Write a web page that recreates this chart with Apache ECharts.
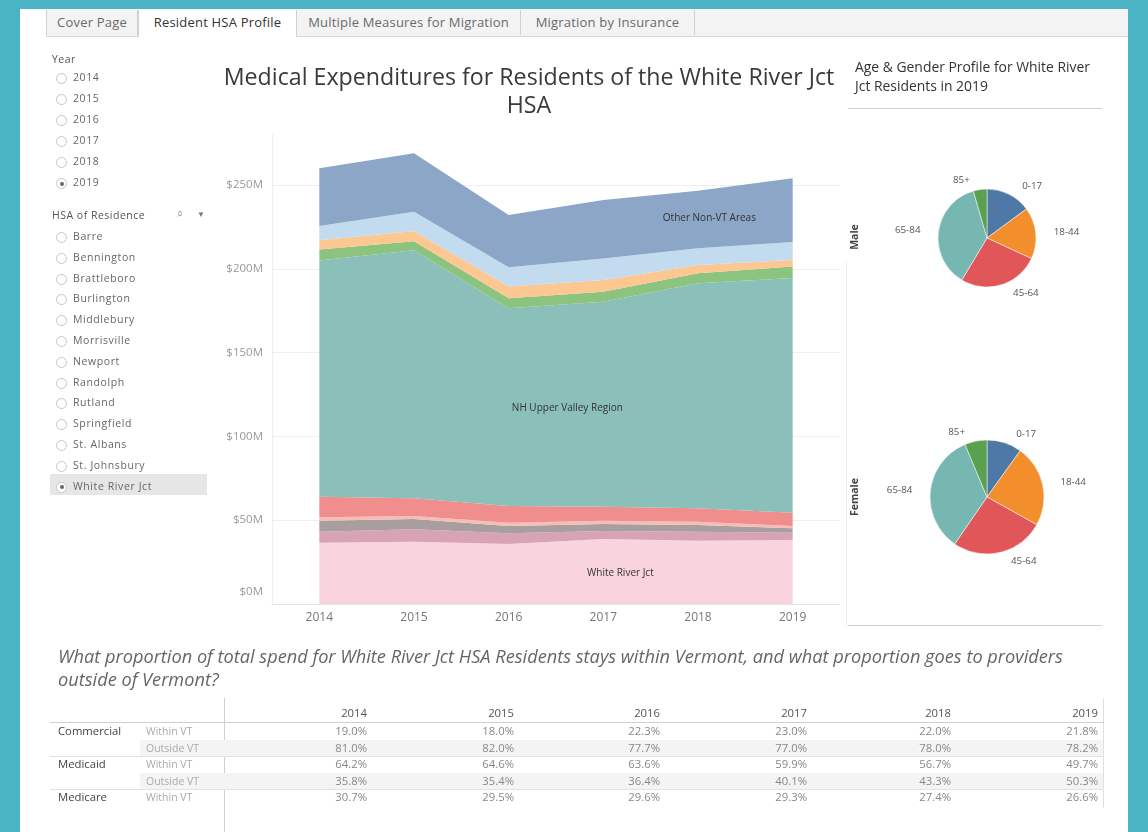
<!DOCTYPE html>
<html><head><meta charset="utf-8">
<script src="https://cdn.jsdelivr.net/npm/echarts@6.0.0/dist/echarts.min.js"></script>
<style>
html,body{margin:0;padding:0;width:1148px;height:832px;overflow:hidden;background:#4ab4c4;font-family:'Open Sans',sans-serif;}
#page{position:absolute;left:20px;top:9px;width:1108px;height:823px;background:#fff;}
#chart{position:absolute;left:0;top:0;width:1148px;height:832px;}
.abs{position:absolute;white-space:nowrap;}
#tabs{position:absolute;left:46px;top:10px;width:1082px;height:26px;background:#f3f3f3;border-bottom:1px solid #d6d6d6;}
.tab{position:absolute;top:0;height:25px;line-height:25px;font-size:13px;color:#6a6a6a;text-align:center;border-right:1px solid #d0d0d0;box-sizing:border-box;letter-spacing:0.2px;}
.tab.active{background:#fff;color:#333;height:27px;border-left:1px solid #d0d0d0;}
.flabel{position:absolute;font-size:10.5px;letter-spacing:0.5px;color:#555;}
.radio{position:absolute;width:9px;height:9px;border:1px solid #c4c4c4;border-radius:50%;background:#fff;}
.radio.on::after{content:'';position:absolute;left:2.5px;top:2.5px;width:4px;height:4px;border-radius:50%;background:#666;}
.ritem{position:absolute;font-size:10.5px;letter-spacing:0.6px;color:#666;}
.cell{position:absolute;font-size:11.3px;color:#888;text-align:right;}
</style></head>
<body>
<div id="page"></div>
<div id="tabs"></div>
<div id="chart"></div>
<div id="overlay"></div>
<script>
// ---------- data ----------
const years = ['2014','2015','2016','2017','2018','2019'];
// stacked layers (in $M), bottom to top
const whiteRiverJct   = [36.6, 37.2, 35.8, 38.8, 37.8, 38.2];
const vtRegionA       = [6.5, 7.4, 6.4, 4.8, 5.3, 4.3];
const vtRegionB       = [6.6, 6.1, 4.3, 4.1, 4.0, 2.7];
const vtRegionC       = [2.0, 1.8, 2.0, 2.0, 1.9, 1.3];
const vtRegionD       = [12.3, 10.6, 10.0, 8.3, 8.1, 8.0];
const nhUpperValley   = [141.0, 147.9, 117.9, 122.4, 134.2, 140.0];
const nonVtRegionA    = [6.5, 5.5, 6.0, 5.9, 6.0, 6.8];
const nonVtRegionB    = [5.5, 6.0, 7.0, 7.0, 5.0, 4.0];
const nonVtRegionC    = [8.5, 11.5, 11.5, 12.9, 9.9, 10.7];
const otherNonVt      = [34.5, 35.0, 31.2, 34.8, 34.3, 38.0];
const yTicks = [0, 50, 100, 150, 200, 250];

const ageGroups   = ['0-17', '18-44', '45-64', '65-84', '85+'];
const maleShare   = [14.9, 17.0, 26.7, 36.9, 4.5];
const femaleShare = [9.9, 23.2, 26.5, 34.1, 6.3];

const tableYears = ['2014','2015','2016','2017','2018','2019'];
const commercialWithin = ['19.0%','18.0%','22.3%','23.0%','22.0%','21.8%'];
const commercialOutside = ['81.0%','82.0%','77.7%','77.0%','78.0%','78.2%'];
const medicaidWithin = ['64.2%','64.6%','63.6%','59.9%','56.7%','49.7%'];
const medicaidOutside = ['35.8%','35.4%','36.4%','40.1%','43.3%','50.3%'];
const medicareWithin = ['30.7%','29.5%','29.6%','29.3%','27.4%','26.6%'];

const filterYears = ['2014','2015','2016','2017','2018','2019'];
const hsaList = ['Barre','Bennington','Brattleboro','Burlington','Middlebury','Morrisville','Newport','Randolph','Rutland','Springfield','St. Albans','St. Johnsbury','White River Jct'];
const tabNames = ['Cover Page','Resident HSA Profile','Multiple Measures for Migration','Migration by Insurance'];

// ---------- static HTML parts ----------
const ov = document.getElementById('overlay');
function add(html){ ov.insertAdjacentHTML('beforeend', html); }

const tabs = document.getElementById('tabs');
const tabX = [0, 92, 251, 475, 649];
tabNames.forEach((t,i)=>{
  tabs.insertAdjacentHTML('beforeend', `<div class="tab${i===1?' active':''}" style="left:${tabX[i]}px;width:${tabX[i+1]-tabX[i]}px;${i===0?'border-left:1px solid #d0d0d0;':''}">${t}</div>`);
});

// Filters
add(`<div class="flabel" style="left:52px;top:52px;">Year</div>`);
filterYears.forEach((y,i)=>{
  const top = 73 + i*21;
  add(`<div class="radio${i===5?' on':''}" style="left:56px;top:${top}px;"></div><div class="ritem" style="left:73px;top:${top-3}px;">${y}</div>`);
});
add(`<div class="flabel" style="left:52px;top:208px;">HSA of Residence</div>`);
add(`<div class="abs" style="left:177px;top:205px;font-size:11px;color:#999;">&#x2315;</div><div class="abs" style="left:197px;top:208px;font-size:8px;color:#777;">&#9660;</div>`);
add(`<div class="abs" style="left:50px;top:474px;width:157px;height:21px;background:#e6e6e6;"></div>`);
hsaList.forEach((h,i)=>{
  const top = 232 + i*20.8;
  add(`<div class="radio${i===12?' on':''}" style="left:56px;top:${top}px;"></div><div class="ritem" style="left:73px;top:${top-3}px;">${h}</div>`);
});

// Titles
add(`<div class="abs" style="left:179px;top:62px;width:700px;text-align:center;font-size:23.2px;line-height:28px;color:#3a3a3a;white-space:normal;">Medical Expenditures for Residents of the White River Jct<br>HSA</div>`);
add(`<div class="abs" style="left:855px;top:57px;font-size:13.9px;line-height:19px;color:#333;">Age &amp; Gender Profile for White River<br>Jct Residents in 2019</div>`);
add(`<div class="abs" style="left:848px;top:108px;width:254px;height:1px;background:#d0d0d0;"></div>`);
add(`<div class="abs" style="left:848px;top:625px;width:254px;height:1px;background:#d0d0d0;"></div>`);
add(`<div class="abs" style="left:846px;top:262px;width:1px;height:365px;background:#f0f0f0;"></div>`);

// Question
add(`<div class="abs" style="left:58px;top:645px;font-size:18.2px;line-height:23px;font-style:italic;color:#666;">What proportion of total spend for White River Jct HSA Residents stays within Vermont, and what proportion goes to providers<br>outside of Vermont?</div>`);

// Table
const colRight = [367, 514, 660, 807, 951, 1098];
add(`<div class="abs" style="left:224px;top:698px;width:1px;height:134px;background:#cfcfcf;"></div>`);
add(`<div class="abs" style="left:1103px;top:698px;width:1px;height:110px;background:#e0e0e0;"></div>`);
add(`<div class="abs" style="left:50px;top:722px;width:1054px;height:1px;background:#cfcfcf;"></div>`);
tableYears.forEach((y,i)=>{ add(`<div class="cell" style="left:${colRight[i]-60}px;width:60px;top:705px;color:#555;">${y}</div>`); });
const rows = [
  ['Commercial','Within VT',commercialWithin],
  ['','Outside VT',commercialOutside],
  ['Medicaid','Within VT',medicaidWithin],
  ['','Outside VT',medicaidOutside],
  ['Medicare','Within VT',medicareWithin]
];
rows.forEach((r,k)=>{
  const top = 723 + k*16.5;
  if (k%2===1) add(`<div class="abs" style="left:140px;top:${top}px;width:963px;height:16.5px;background:#f4f4f4;"></div>`);
  if (k===2 || k===4) add(`<div class="abs" style="left:50px;top:${top}px;width:1054px;height:1px;background:#e2e2e2;"></div>`);
  if (r[0]) add(`<div class="abs" style="left:58px;top:${top}px;font-size:11.3px;color:#444;">${r[0]}</div>`);
  add(`<div class="abs" style="left:146px;top:${top+1}px;font-size:10.5px;color:#aaa;">${r[1]}</div>`);
  r[2].forEach((v,i)=>{ add(`<div class="cell" style="left:${colRight[i]-60}px;width:60px;top:${top}px;">${v}</div>`); });
});

// ---------- chart ----------
const chart = echarts.init(document.getElementById('chart'), null, {renderer:'canvas'});
const layers = [
  ['White River Jct', whiteRiverJct, '#f9d4df'],
  ['VT Region A', vtRegionA, '#d9a3b6'],
  ['VT Region B', vtRegionB, '#a89e9f'],
  ['VT Region C', vtRegionC, '#f7bdb4'],
  ['VT Region D', vtRegionD, '#ef8e8c'],
  ['NH Upper Valley Region', nhUpperValley, '#8bbfba'],
  ['Non-VT Region A', nonVtRegionA, '#8cc37f'],
  ['Non-VT Region B', nonVtRegionB, '#fdc791'],
  ['Non-VT Region C', nonVtRegionC, '#c2dbef'],
  ['Other Non-VT Areas', otherNonVt, '#8ba6c7']
];
const FF = "'Open Sans', sans-serif";
const series = layers.map(l => ({
  name: l[0], type: 'line', stack: 'total', data: l[1], symbol: 'none',
  lineStyle: {width: 0}, areaStyle: {color: l[2], opacity: 1}, itemStyle:{color:l[2]}, z: 2
}));
const pieLabel = {show:true, position:'outside', color:'#555', fontSize:9.8, fontFamily:FF, formatter:'{b}'};
series.push({
  type:'pie', name:'Male', center:[987,238], radius:49, startAngle:90, clockwise:true,
  data: ageGroups.map((a,i)=>({name:a, value:maleShare[i]})),
  label: pieLabel, labelLine:{show:false, length:9, length2:4},
  itemStyle:{borderColor:'#fff', borderWidth:0.5}, emphasis:{disabled:true}
});
series.push({
  type:'pie', name:'Female', center:[987,497], radius:57, startAngle:90, clockwise:true,
  data: ageGroups.map((a,i)=>({name:a, value:femaleShare[i]})),
  label: pieLabel, labelLine:{show:false, length:9, length2:4},
  itemStyle:{borderColor:'#fff', borderWidth:0.5}, emphasis:{disabled:true}
});

chart.setOption({
  animation:false,
  color:['#4e79a7','#f28e2b','#e15759','#76b7b2','#59a14f'],
  grid:{left:272, top:134.7, width:568, height:469.3},
  xAxis:{type:'category', data:years, boundaryGap:true,
    axisLine:{show:true, lineStyle:{color:'#e4e4e4'}}, axisTick:{show:false},
    axisLabel:{color:'#777', fontSize:12, fontFamily:FF, margin:8}, splitLine:{show:false}},
  yAxis:{type:'value', min:0, max:280, interval:50,
    axisLine:{show:true, lineStyle:{color:'#eeeeee'}}, axisTick:{show:false},
    axisLabel:{color:'#999', fontSize:11.5, fontFamily:FF, margin:9, showMaxLabel:false,
      formatter: v => v === 0 ? '{low|$0M}' : (yTicks.indexOf(v) >= 0 ? '$' + v + 'M' : ''),
      rich:{low:{color:'#999', fontSize:11.5, fontFamily:FF, padding:[0,0,24,0]}}},
    splitLine:{lineStyle:{color:'#efefef'}}},
  series: series
});

// in-area labels placed via the chart's own scales
function px(idx, val){
  const i0 = Math.floor(idx), f = idx - i0;
  const a = chart.convertToPixel({gridIndex:0}, [i0, val]);
  const b = chart.convertToPixel({gridIndex:0}, [Math.min(i0+1,5), val]);
  return [a[0] + (b[0]-a[0])*f, a[1]];
}
const areaLabels = [
  ['Other Non-VT Areas', 4.12, 230],
  ['NH Upper Valley Region', 2.62, 117],
  ['White River Jct', 3.18, 18.5]
];
const gfx = areaLabels.map(l => {
  const p = px(l[1], l[2]);
  return {type:'text', x:p[0], y:p[1], z:100,
    style:{text:l[0], fill:'#333', font:"10px 'Open Sans', sans-serif", textAlign:'center', textVerticalAlign:'middle'}};
});
// mask the top edge line of the value axis (no gridline at the axis max in the original)
const topPx = chart.convertToPixel({gridIndex:0}, [0, 280]);
gfx.push({type:'rect', shape:{x:273, y:topPx[1]-1.5, width:570, height:3}, style:{fill:'#fff'}, z:1});
gfx.push({type:'text', x:855, y:237, rotation:Math.PI/2, z:100,
  style:{text:'Male', fill:'#444', font:"bold 10.5px 'Open Sans', sans-serif", textAlign:'center', textVerticalAlign:'middle'}});
gfx.push({type:'text', x:855, y:497, rotation:Math.PI/2, z:100,
  style:{text:'Female', fill:'#444', font:"bold 10.5px 'Open Sans', sans-serif", textAlign:'center', textVerticalAlign:'middle'}});
chart.setOption({graphic: gfx});
</script>
</body></html>
